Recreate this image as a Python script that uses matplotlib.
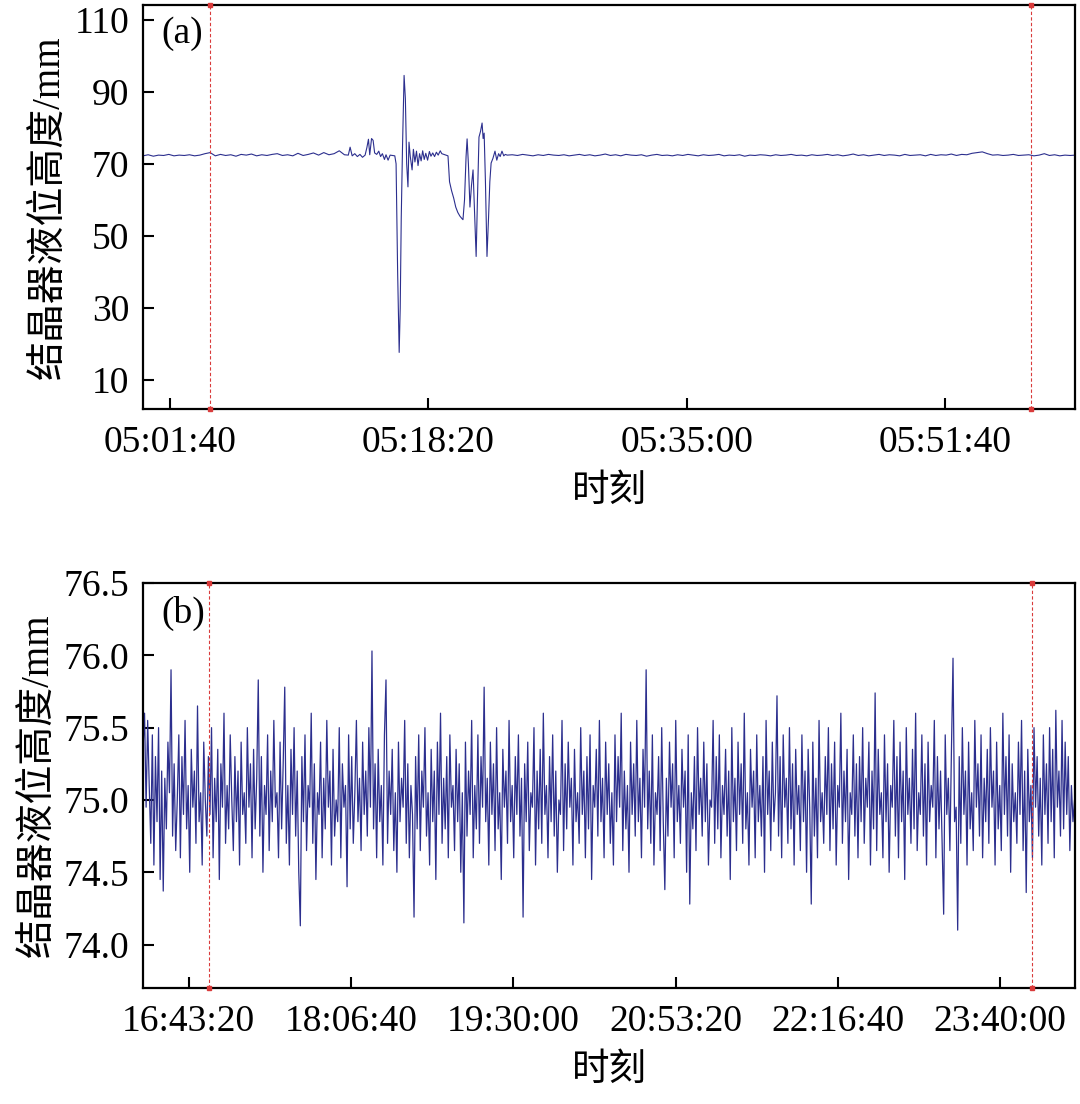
import numpy as np
import matplotlib
matplotlib.use('Agg')
import matplotlib.pyplot as plt
from matplotlib.ticker import FuncFormatter, FixedLocator

plt.rcParams['font.family'] = ['Liberation Serif', 'Noto Sans CJK SC']

# ---------------- panel (a): seconds of day, 05:00 - 06:00 ----------------
a_start = 18000 - 5      # 04:59:55
a_end = 18000 + 3604
a_step = 20

# level before the disturbance, one value every 20 s from 04:59:55
a_pre = [72.2, 72.5, 72.1, 72.4, 72.3, 72.6, 72.2, 72.4, 72.3, 72.5,
         72.2, 72.4, 72.8, 73.1, 72.2, 72.6, 72.3, 72.5, 72.1, 72.6,
         72.4, 72.7, 72.2, 72.5, 72.3, 72.6, 72.8, 72.3, 72.5, 72.2,
         72.9, 72.3, 72.6, 73.0, 72.4, 73.1, 72.5, 72.8, 73.6, 72.5]

# disturbance, seconds after 05:00:00 and level (mm)
a_evt_t = [790, 797, 805, 815, 825, 835, 845, 855, 862, 868, 873, 880, 886, 892,
           900, 908, 915, 922, 930, 936, 944, 952, 962, 970, 975, 981, 987, 991,
           995, 1000, 1006, 1011, 1016, 1021, 1025, 1030, 1037, 1042, 1048, 1054,
           1060, 1066, 1072, 1078, 1084, 1090, 1097, 1104, 1110, 1117, 1124, 1131,
           1138, 1146, 1152, 1160, 1168, 1176, 1182, 1190, 1198, 1206, 1214, 1222,
           1230, 1234, 1240, 1246, 1250, 1255, 1261, 1267, 1273, 1279, 1285, 1290,
           1296, 1302, 1308, 1312, 1316, 1321, 1327, 1333, 1338, 1343, 1350, 1358,
           1365, 1372, 1378, 1385, 1392, 1398, 1405]
a_evt_v = [72.4, 74.6, 72.2, 72.8, 72.0, 72.6, 71.8, 72.4, 74.5, 76.8, 72.5, 77.0, 76.5, 73.0,
           72.6, 73.5, 72.0, 72.8, 71.2, 72.5, 71.0, 72.4, 72.3, 72.2, 70.0, 40.0, 17.7, 30.0,
           55.0, 75.0, 94.5, 88.0, 70.0, 63.6, 76.0, 72.0, 68.3, 74.0, 70.5, 73.5,
           69.5, 72.8, 70.8, 73.6, 71.2, 72.9, 71.0, 73.4, 72.1, 73.0, 72.0, 73.2,
           72.4, 73.6, 72.8, 72.6, 72.4, 72.2, 65.0, 62.5, 60.5, 58.0, 56.5, 55.5,
           54.8, 54.5, 60.0, 72.0, 76.9, 70.0, 58.0, 64.0, 68.3, 56.0, 44.3, 60.0,
           77.4, 79.0, 81.3, 77.0, 78.5, 65.0, 44.3, 55.0, 65.0, 70.2, 71.5, 73.5,
           71.0, 72.8, 72.0, 73.5, 72.2, 72.6, 72.4]

# level after the disturbance, one value every 20 s from 05:23:45
a_post = [72.5, 72.3, 72.6, 72.4, 72.2, 72.5, 72.3, 72.6, 72.4, 72.3,
          72.5, 72.2, 72.4, 72.6, 72.3, 72.5, 72.2, 72.4, 72.7, 72.3,
          72.5, 72.2, 72.6, 72.4, 72.3, 72.5, 72.1, 72.4, 72.6, 72.3,
          72.4, 72.2, 72.5, 72.3, 72.6, 72.4, 72.2, 72.5, 72.3, 72.4,
          72.6, 72.2, 72.4, 72.3, 72.5, 72.1, 72.4, 72.3, 72.5, 72.4,
          72.2, 72.5, 72.3, 72.4, 72.6, 72.3, 72.4, 72.2, 72.5, 72.3,
          72.4, 72.6, 72.3, 72.5, 72.2, 72.4, 72.7, 72.3, 72.5, 72.2,
          72.4, 72.6, 72.3, 72.5, 72.4, 72.2, 72.6, 72.3, 72.4, 72.5,
          72.2, 72.6, 72.3, 72.5, 72.4, 72.7, 72.3, 72.6, 72.5, 72.9,
          73.1, 73.3, 72.8, 72.4, 72.5, 72.3, 72.4, 72.6, 72.3, 72.4,
          72.5, 72.2, 72.4, 72.8, 72.3, 72.5, 72.2, 72.4, 72.3, 72.4]

a_ticks = [18100, 19100, 20100, 21100]
a_yticks = [10, 30, 50, 70, 90, 110]
a_marks = [18255, 21433]

# ---------------- panel (b): 16:19:50 - 00:18:30, one value every 48 s ----------------
b_start = 58790
b_step = 48
b_vals = [
    75.35, 75.60, 74.95, 75.55, 75.10, 74.70, 75.45, 74.55, 75.30, 74.85, 75.50, 74.45, 75.20, 74.37, 75.15, 74.80, 75.40, 75.05, 75.90, 74.75,
    75.25, 74.65, 75.00, 75.45, 74.60, 75.30, 74.90, 75.55, 74.80, 75.10, 74.50, 75.35, 74.95, 75.20, 74.70, 75.65, 74.85, 75.05, 74.55, 75.40,
    75.00, 74.75, 75.30, 74.90, 75.50, 74.60, 75.15, 74.85, 75.35, 74.45, 75.25, 74.95, 75.60, 74.70, 75.10, 74.80, 75.45, 75.00, 74.65, 75.30,
    74.85, 75.20, 74.55, 75.40, 74.90, 75.05, 74.70, 75.50, 74.95, 75.25, 74.60, 75.35, 74.80, 75.15, 75.83, 74.75, 75.30, 74.50, 75.10, 74.90,
    75.45, 74.65, 75.20, 74.85, 75.55, 74.95, 75.05, 74.60, 75.40, 74.80, 75.25, 75.78, 74.70, 75.10, 74.55, 75.35, 74.90, 75.50, 74.75, 75.20,
    74.50, 74.13, 75.30, 74.85, 75.45, 74.65, 75.10, 74.95, 75.60, 74.70, 75.25, 74.45, 75.05, 74.90, 75.40, 74.60, 75.15, 74.80, 75.55, 74.95,
    75.20, 74.55, 75.35, 74.75, 75.00, 74.85, 75.50, 74.60, 75.25, 74.95, 75.10, 74.40, 75.45, 74.80, 75.30, 74.70, 75.05, 75.55, 74.85, 75.15,
    74.65, 75.40, 74.90, 75.20, 74.75, 75.50, 74.95, 76.03, 74.80, 75.25, 74.60, 75.35, 74.85, 75.10, 74.55, 75.45, 75.83, 74.70, 75.20, 74.90,
    75.35, 74.65, 75.05, 74.50, 75.40, 74.85, 75.15, 74.95, 75.55, 74.70, 75.25, 74.60, 75.10, 74.90, 74.19, 75.30, 74.80, 75.45, 74.65, 75.20,
    74.95, 75.50, 74.75, 75.05, 74.55, 75.35, 74.85, 75.20, 74.45, 75.40, 74.90, 75.60, 74.70, 75.15, 74.80, 75.30, 74.60, 75.45, 74.95, 75.10,
    74.65, 75.35, 74.85, 75.25, 74.50, 75.05, 74.15, 75.40, 74.75, 75.20, 74.90, 75.55, 74.60, 75.10, 74.80, 75.45, 74.70, 75.30, 74.95, 75.78,
    74.85, 75.15, 74.55, 75.40, 74.90, 75.25, 74.65, 75.50, 74.80, 75.05, 74.45, 75.35, 74.95, 75.20, 74.70, 75.55, 74.85, 75.10, 74.60, 75.30,
    74.90, 75.45, 74.75, 75.15, 74.19, 75.25, 74.85, 75.40, 74.65, 75.05, 74.95, 75.50, 74.55, 75.20, 74.80, 75.35, 74.70, 75.60, 74.90, 75.10,
    74.60, 75.30, 74.85, 75.45, 74.75, 75.20, 74.50, 75.00, 74.90, 75.55, 74.65, 75.25, 74.80, 75.40, 74.95, 75.15, 74.55, 75.35, 74.85, 75.05,
    74.70, 75.50, 74.90, 75.20, 74.60, 75.30, 74.80, 75.45, 74.45, 75.10, 74.95, 75.35, 74.75, 75.55, 74.85, 75.15, 74.60, 75.40, 74.90, 75.25,
    74.70, 75.05, 74.55, 75.45, 74.85, 75.30, 74.95, 75.60, 74.65, 75.20, 74.80, 75.10, 74.50, 75.40, 74.90, 75.25, 74.75, 75.55, 74.85, 75.15,
    74.60, 75.35, 74.95, 75.90, 74.80, 75.20, 74.70, 75.45, 74.55, 75.05, 74.90, 75.30, 74.65, 75.50, 74.85, 74.38, 75.15, 74.75, 75.40, 74.95,
    75.25, 74.60, 75.55, 74.85, 75.10, 74.70, 75.35, 74.95, 75.20, 74.50, 75.45, 74.28, 75.05, 74.80, 75.30, 74.65, 75.50, 74.90, 75.15, 74.75,
    75.40, 74.85, 75.25, 74.55, 75.00, 74.95, 75.55, 74.70, 75.30, 74.80, 75.45, 74.60, 75.10, 74.90, 75.35, 74.75, 75.20, 74.45, 75.50, 74.85,
    75.15, 74.65, 75.40, 74.90, 75.25, 74.70, 75.60, 74.80, 75.05, 74.55, 75.35, 74.95, 75.20, 74.60, 75.45, 74.85, 75.10, 74.75, 75.30, 74.50,
    75.55, 74.90, 75.20, 74.65, 75.40, 74.85, 75.05, 75.72, 74.75, 75.30, 74.60, 75.45, 74.95, 75.15, 74.70, 75.50, 74.80, 75.25, 74.55, 75.35,
    74.90, 75.10, 74.65, 75.45, 74.85, 75.20, 74.50, 75.35, 74.95, 74.28, 75.40, 74.75, 75.15, 74.60, 75.55, 74.85, 75.05, 74.70, 75.30, 74.90,
    75.50, 74.65, 75.25, 74.80, 75.40, 74.55, 75.10, 74.95, 75.60, 74.70, 75.20, 74.85, 75.35, 74.45, 75.05, 74.90, 75.45, 74.75, 75.25, 74.60,
    75.30, 74.85, 75.50, 74.70, 75.15, 74.95, 75.40, 74.55, 75.20, 74.80, 75.74, 74.65, 75.35, 74.90, 75.05, 74.60, 75.45, 74.85, 75.25, 74.50,
    75.10, 74.95, 75.55, 74.75, 75.30, 74.60, 75.40, 74.85, 75.20, 74.45, 75.50, 74.90, 75.15, 74.70, 75.35, 74.80, 75.60, 74.65, 75.05, 74.90,
    75.45, 74.75, 75.25, 74.55, 75.40, 74.85, 75.10, 74.95, 75.55, 74.60, 75.30, 74.80, 75.20, 74.70, 74.21, 75.45, 74.90, 75.15, 74.65, 75.35,
    75.98, 74.85, 74.95, 74.10, 75.30, 74.70, 75.50, 74.90, 75.20, 74.55, 75.40, 74.80, 75.05, 74.65, 75.55, 74.95, 75.25, 74.75, 75.45, 74.60,
    75.15, 74.85, 75.35, 74.70, 75.50, 74.95, 75.20, 74.55, 75.40, 74.80, 75.10, 74.65, 75.60, 74.90, 75.30, 74.75, 75.45, 74.50, 75.25, 74.85,
    75.05, 74.70, 75.40, 74.90, 75.55, 74.65, 75.20, 74.36, 75.35, 74.85, 75.10, 74.60, 75.50, 74.95, 75.30, 74.75, 75.15, 74.55, 75.45, 74.90,
    75.25, 74.70, 75.50, 74.85, 75.35, 74.60, 75.62, 74.95, 75.20, 74.75, 75.55, 74.80, 75.40, 74.90, 75.30, 74.65, 75.10, 74.85, 75.00, 74.75,
]
b_ticks = [60200, 65200, 70200, 75200, 80200, 85200]
b_yticks = [74.0, 74.5, 75.0, 75.5, 76.0, 76.5]
b_marks = [60817, 86188]

line_color = '#2c2f8e'
mark_color = '#d93b3b'


def hms(x, pos=None):
    s = int(round(x)) % 86400
    return f"{s // 3600:02d}:{(s % 3600) // 60:02d}:{s % 60:02d}"


# assemble time axis for (a)
a_t = np.concatenate([a_start + a_step * np.arange(len(a_pre)),
                      18000 + np.array(a_evt_t),
                      18000 + 1425 + a_step * np.arange(len(a_post))])
a_v = np.concatenate([a_pre, a_evt_v, a_post])
b_t = b_start + b_step * np.arange(len(b_vals))

fig = plt.figure(figsize=(10.8, 11.04), dpi=100)
ax1 = fig.add_axes([0.1324, 0.6295, 0.8630, 0.3659])
ax2 = fig.add_axes([0.1324, 0.1051, 0.8630, 0.3668])

fs = 27


def style(ax, xticks, yticks, yfmt):
    ax.xaxis.set_major_locator(FixedLocator(xticks))
    ax.xaxis.set_major_formatter(FuncFormatter(hms))
    ax.yaxis.set_major_locator(FixedLocator(yticks))
    ax.yaxis.set_major_formatter(FuncFormatter(yfmt))
    ax.tick_params(direction='in', length=8, width=1.5, labelsize=fs,
                   top=False, right=False)
    ax.tick_params(axis='x', pad=12)
    ax.tick_params(axis='y', pad=10)
    for sp in ax.spines.values():
        sp.set_linewidth(1.6)
    ax.set_xlabel('时刻', fontsize=fs, labelpad=10)
    ax.set_ylabel('结晶器液位高度/mm', fontsize=fs + 1, labelpad=5)


# (a)
ax1.plot(a_t, a_v, color=line_color, lw=0.8)
ax1.set_xlim(a_start, a_end)
ax1.set_ylim(2, 114)
for m in a_marks:
    ax1.plot([m, m], [2, 114], color=mark_color, ls=(0, (3, 2)), lw=0.8,
             marker='s', ms=3.5, clip_on=False, zorder=5)
style(ax1, a_ticks, a_yticks, lambda v, p: f"{v:.0f}")
ax1.text(0.02, 0.93, '(a)', transform=ax1.transAxes, fontsize=fs, va='center')

# (b)
ax2.plot(b_t, b_vals, color=line_color, lw=0.9)
ax2.set_xlim(b_start, b_start + 28720)
ax2.set_ylim(73.7, 76.5)
for m in b_marks:
    ax2.plot([m, m], [73.7, 76.5], color=mark_color, ls=(0, (3, 2)), lw=0.8,
             marker='s', ms=3.5, clip_on=False, zorder=5)
style(ax2, b_ticks, b_yticks, lambda v, p: f"{v:.1f}")
ax2.text(0.02, 0.925, '(b)', transform=ax2.transAxes, fontsize=fs, va='center')

fig.savefig('out.png', dpi=100)
